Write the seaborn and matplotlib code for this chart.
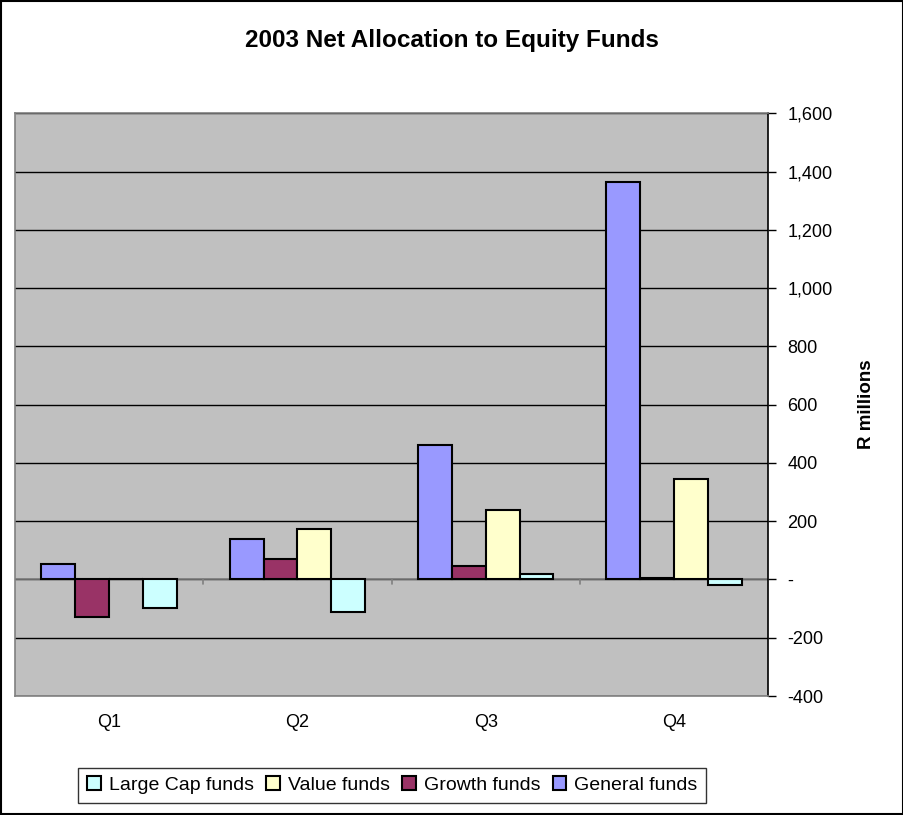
import numpy as np
import pandas as pd
import matplotlib
matplotlib.use("Agg")
import matplotlib.pyplot as plt
import seaborn as sns
from matplotlib.ticker import FuncFormatter, MultipleLocator
from matplotlib.patches import Rectangle

quarters = ["Q1", "Q2", "Q3", "Q4"]
general = [52, 140, 462, 1363]
growth = [-128, 70, 45, 5]
value = [0, 172, 237, 346]
large_cap = [-97, -111, 18, -20]

series = ["General funds", "Growth funds", "Value funds", "Large Cap funds"]
colors = {"General funds": "#9999FF", "Growth funds": "#993366",
          "Value funds": "#FFFFCC", "Large Cap funds": "#CCFFFF"}

rows = []
for name, vals in zip(series, [general, growth, value, large_cap]):
    for q, v in zip(quarters, vals):
        rows.append({"Quarter": q, "Series": name, "Value": v})
df = pd.DataFrame(rows)

sns.set_theme(style="white")
plt.rcParams['font.family'] = ['Liberation Sans', 'DejaVu Sans']
plt.rcParams['text.color'] = 'black'
plt.rcParams['axes.labelcolor'] = 'black'
plt.rcParams['xtick.color'] = 'black'
plt.rcParams['ytick.color'] = 'black'

fig = plt.figure(figsize=(9.04, 8.15), dpi=100)
ax = fig.add_axes([0.0166, 0.146, 0.833, 0.715])
ax.set_facecolor("#C0C0C0")

sns.barplot(data=df, x="Quarter", y="Value", hue="Series", order=quarters,
            hue_order=series, palette=colors, saturation=1, edgecolor="black",
            linewidth=1.5, width=0.72, gap=0, ax=ax, legend=True, zorder=3)

ax.set_ylim(-400, 1600)
ax.set_xlim(-0.5, 3.5)
ax.yaxis.set_major_locator(MultipleLocator(200))
ax.yaxis.tick_right()
ax.yaxis.set_label_position("right")
ax.yaxis.set_major_formatter(FuncFormatter(lambda v, p: "-" if abs(v) < 1e-9 else f"{v:,.0f}"))
ax.grid(axis="y", color="black", linewidth=1.0, zorder=0)
ax.set_axisbelow(True)
ax.axhline(0, color="#808080", linewidth=1.2, zorder=2)
for xb in [0.5, 1.5, 2.5]:
    ax.plot([xb, xb], [0, -15], color="#808080", linewidth=1.2, zorder=2, clip_on=False)

ax.tick_params(axis="y", which="major", direction="out", length=6, width=1,
               color="black", labelcolor="black", right=True, left=False, labelsize=13, pad=8)
ax.tick_params(axis="x", length=0, labelsize=13, pad=13, labelcolor="black")
ax.set_xlabel("")
ax.set_ylabel("R millions", fontsize=13.5, fontweight="bold", labelpad=18, color="black")

for s in ["left", "top", "bottom"]:
    ax.spines[s].set_color("#808080")
    ax.spines[s].set_linewidth(1.2)
ax.spines["right"].set_color("black")
ax.spines["right"].set_linewidth(1.2)

fig.text(0.5, 0.950, "2003 Net Allocation to Equity Funds", ha="center", va="center",
         fontsize=17.5, fontweight="bold", color="black")

handles, labels = ax.get_legend_handles_labels()
ax.get_legend().remove()
leg = fig.legend(handles[::-1], labels[::-1], loc="center", bbox_to_anchor=(0.434, 0.0365),
                 ncol=4, frameon=True, fancybox=False, edgecolor="black", fontsize=14,
                 handlelength=0.7, handleheight=0.7, handletextpad=0.4, columnspacing=0.65,
                 borderpad=0.45, labelcolor="black")
leg.get_frame().set_linewidth(1.0)

fig.patches.append(Rectangle((0.001, 0.001), 0.998, 0.998, transform=fig.transFigure,
                             fill=False, edgecolor="black", linewidth=1.5))

fig.savefig("out.png", dpi=100, facecolor="white")
